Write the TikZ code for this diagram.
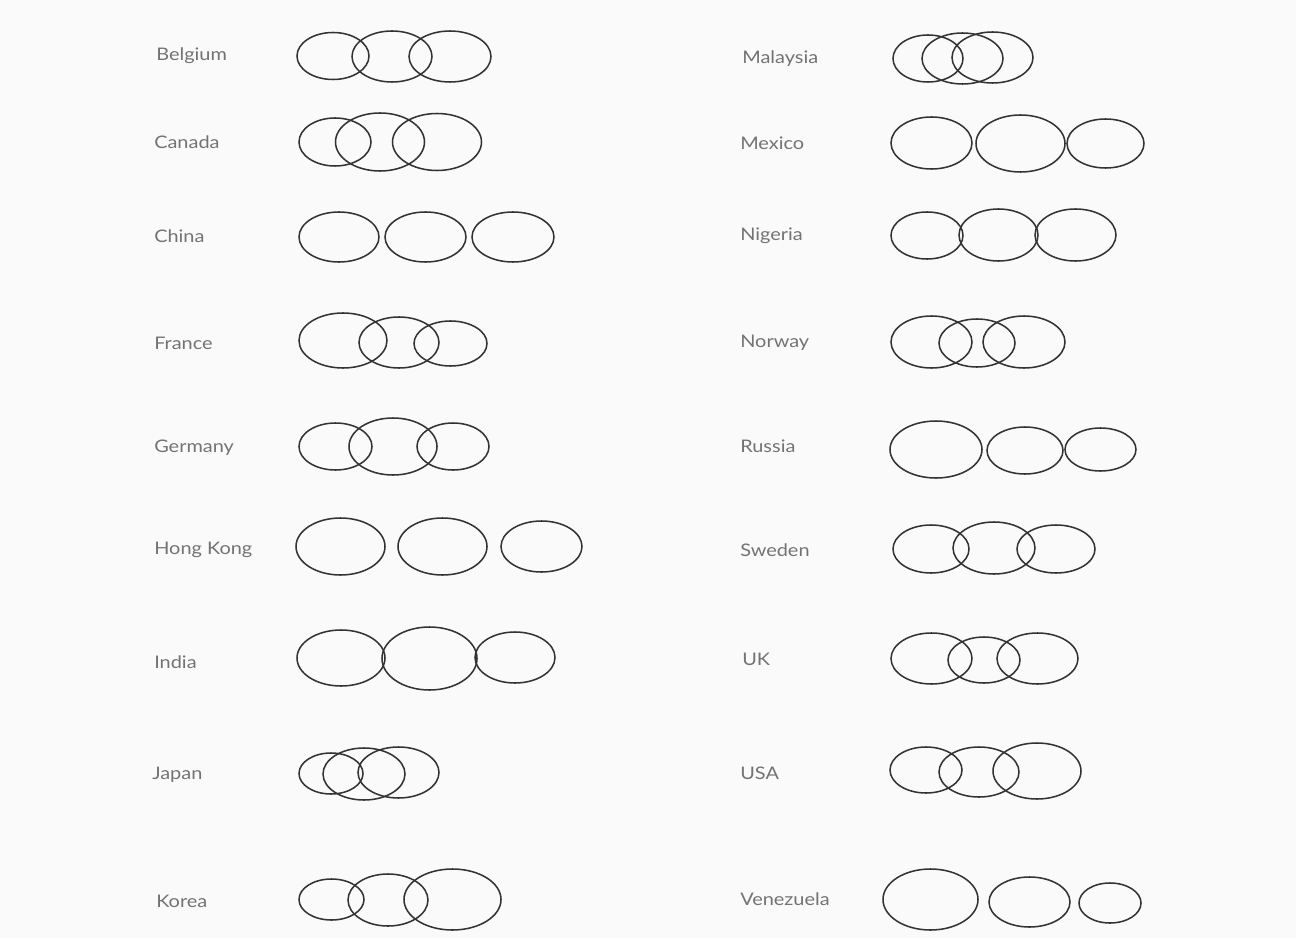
\documentclass[tikz,border=0pt]{standalone}
\usepackage{fontspec}
\setmainfont{Lato}[FakeStretch=1.15]
\newcommand\ringat[4]{\draw[ringstyle] (#1,#2) ellipse [x radius=#3*0.75pt, y radius=#4*0.75pt];}
\begin{document}
\begin{tikzpicture}[x=0.75pt,y=-0.75pt,
  ringstyle/.style={draw=black!80, line width=1.15pt},
  country/.style={anchor=west, inner sep=0pt, text=black!55, font=\fontsize{13}{15}\selectfont}]
\fill[black!2] (0,0) rectangle (1296,938);
\useasboundingbox (0,0) rectangle (1296,938);
% left column labels
\node[country] (be) at (156,56) {Belgium};
\node[country] (ca) at (154,142) {Canada};
\node[country] (cn) at (154,236) {China};
\node[country] (fr) at (154,343) {France};
\node[country] (de) at (154,448) {Germany};
\node[country] (hk) at (154,550) {Hong Kong};
\node[country] (in) at (154,662) {India};
\node[country] (jp) at (152,775) {Japan};
\node[country] (kr) at (156,901) {Korea};
% right column labels
\node[country] (my) at (742,59) {Malaysia};
\node[country] (mx) at (740,143) {Mexico};
\node[country] (ng) at (740,236) {Nigeria};
\node[country] (no) at (740,343) {Norway};
\node[country] (ru) at (740,446) {Russia};
\node[country] (se) at (740,550) {Sweden};
\node[country] (uk) at (742,659) {UK};
\node[country] (us) at (740,773) {USA};
\node[country] (ve) at (740,899) {Venezuela};
% Belgium
\ringat{333}{56}{36}{23.5}
\ringat{392}{56.5}{40}{25.5}
\ringat{450}{56.5}{41}{25.5}
% Canada
\ringat{335}{142}{36}{24}
\ringat{380}{142}{44.5}{29}
\ringat{437}{142}{44.5}{28.5}
% China
\ringat{339}{237}{40}{25}
\ringat{425.5}{237}{40.5}{25}
\ringat{513}{237}{41}{25}
% France
\ringat{343}{340.5}{44}{27.5}
\ringat{399}{342.5}{40}{25.5}
\ringat{450.5}{343.5}{36.5}{22.5}
% Germany
\ringat{335.5}{446.5}{36.5}{23.5}
\ringat{393}{446.5}{44}{28.5}
\ringat{453}{446.5}{36}{23.5}
% Hong Kong
\ringat{340.5}{546.5}{44.5}{28.5}
\ringat{442.5}{546.5}{44.5}{28.5}
\ringat{541.5}{546.5}{40.5}{25.5}
% India
\ringat{341}{658}{44}{28}
\ringat{429.5}{658.5}{47.5}{31.5}
\ringat{515}{657.5}{40}{25.5}
% Japan
\ringat{331}{773.5}{32}{20.5}
\ringat{364}{774}{41}{26}
\ringat{398.5}{772.5}{40.5}{25.5}
% Korea
\ringat{331.5}{899.5}{32.5}{20.5}
\ringat{388}{900}{40}{26}
\ringat{452.5}{899.5}{48.5}{30.5}
% Malaysia
\ringat{928}{58.5}{35}{23.5}
\ringat{962.5}{58.5}{40.5}{25.5}
\ringat{992.5}{57.5}{40.5}{25.5}
% Mexico
\ringat{931.5}{143}{40.5}{26}
\ringat{1020.5}{143.5}{44.5}{28.5}
\ringat{1105.5}{143.5}{38.5}{24.5}
% Nigeria
\ringat{927}{235.5}{36}{23.5}
\ringat{998.5}{235}{39.5}{26}
\ringat{1075.5}{235}{40.5}{26}
% Norway
\ringat{931.5}{342}{40.5}{26}
\ringat{977}{343}{38}{24}
\ringat{1024}{342}{41}{26}
% Russia
\ringat{936}{449.5}{46}{28.5}
\ringat{1025}{450.5}{38}{23.5}
\ringat{1100.5}{449.5}{35.5}{21.5}
% Sweden
\ringat{931}{549}{38}{24}
\ringat{994}{548}{41}{26}
\ringat{1056}{549}{39}{24}
% UK
\ringat{931.5}{658.5}{40.5}{25.5}
\ringat{984}{660}{36}{23}
\ringat{1037.5}{658.5}{40.5}{25.5}
% USA
\ringat{926}{770}{36}{23}
\ringat{979}{772}{40}{25}
\ringat{1037}{771}{44}{28}
% Venezuela
\ringat{930.5}{899.5}{47.5}{30.5}
\ringat{1029.5}{902}{40.5}{25}
\ringat{1110}{903}{31}{20}
\end{tikzpicture}
\end{document}
